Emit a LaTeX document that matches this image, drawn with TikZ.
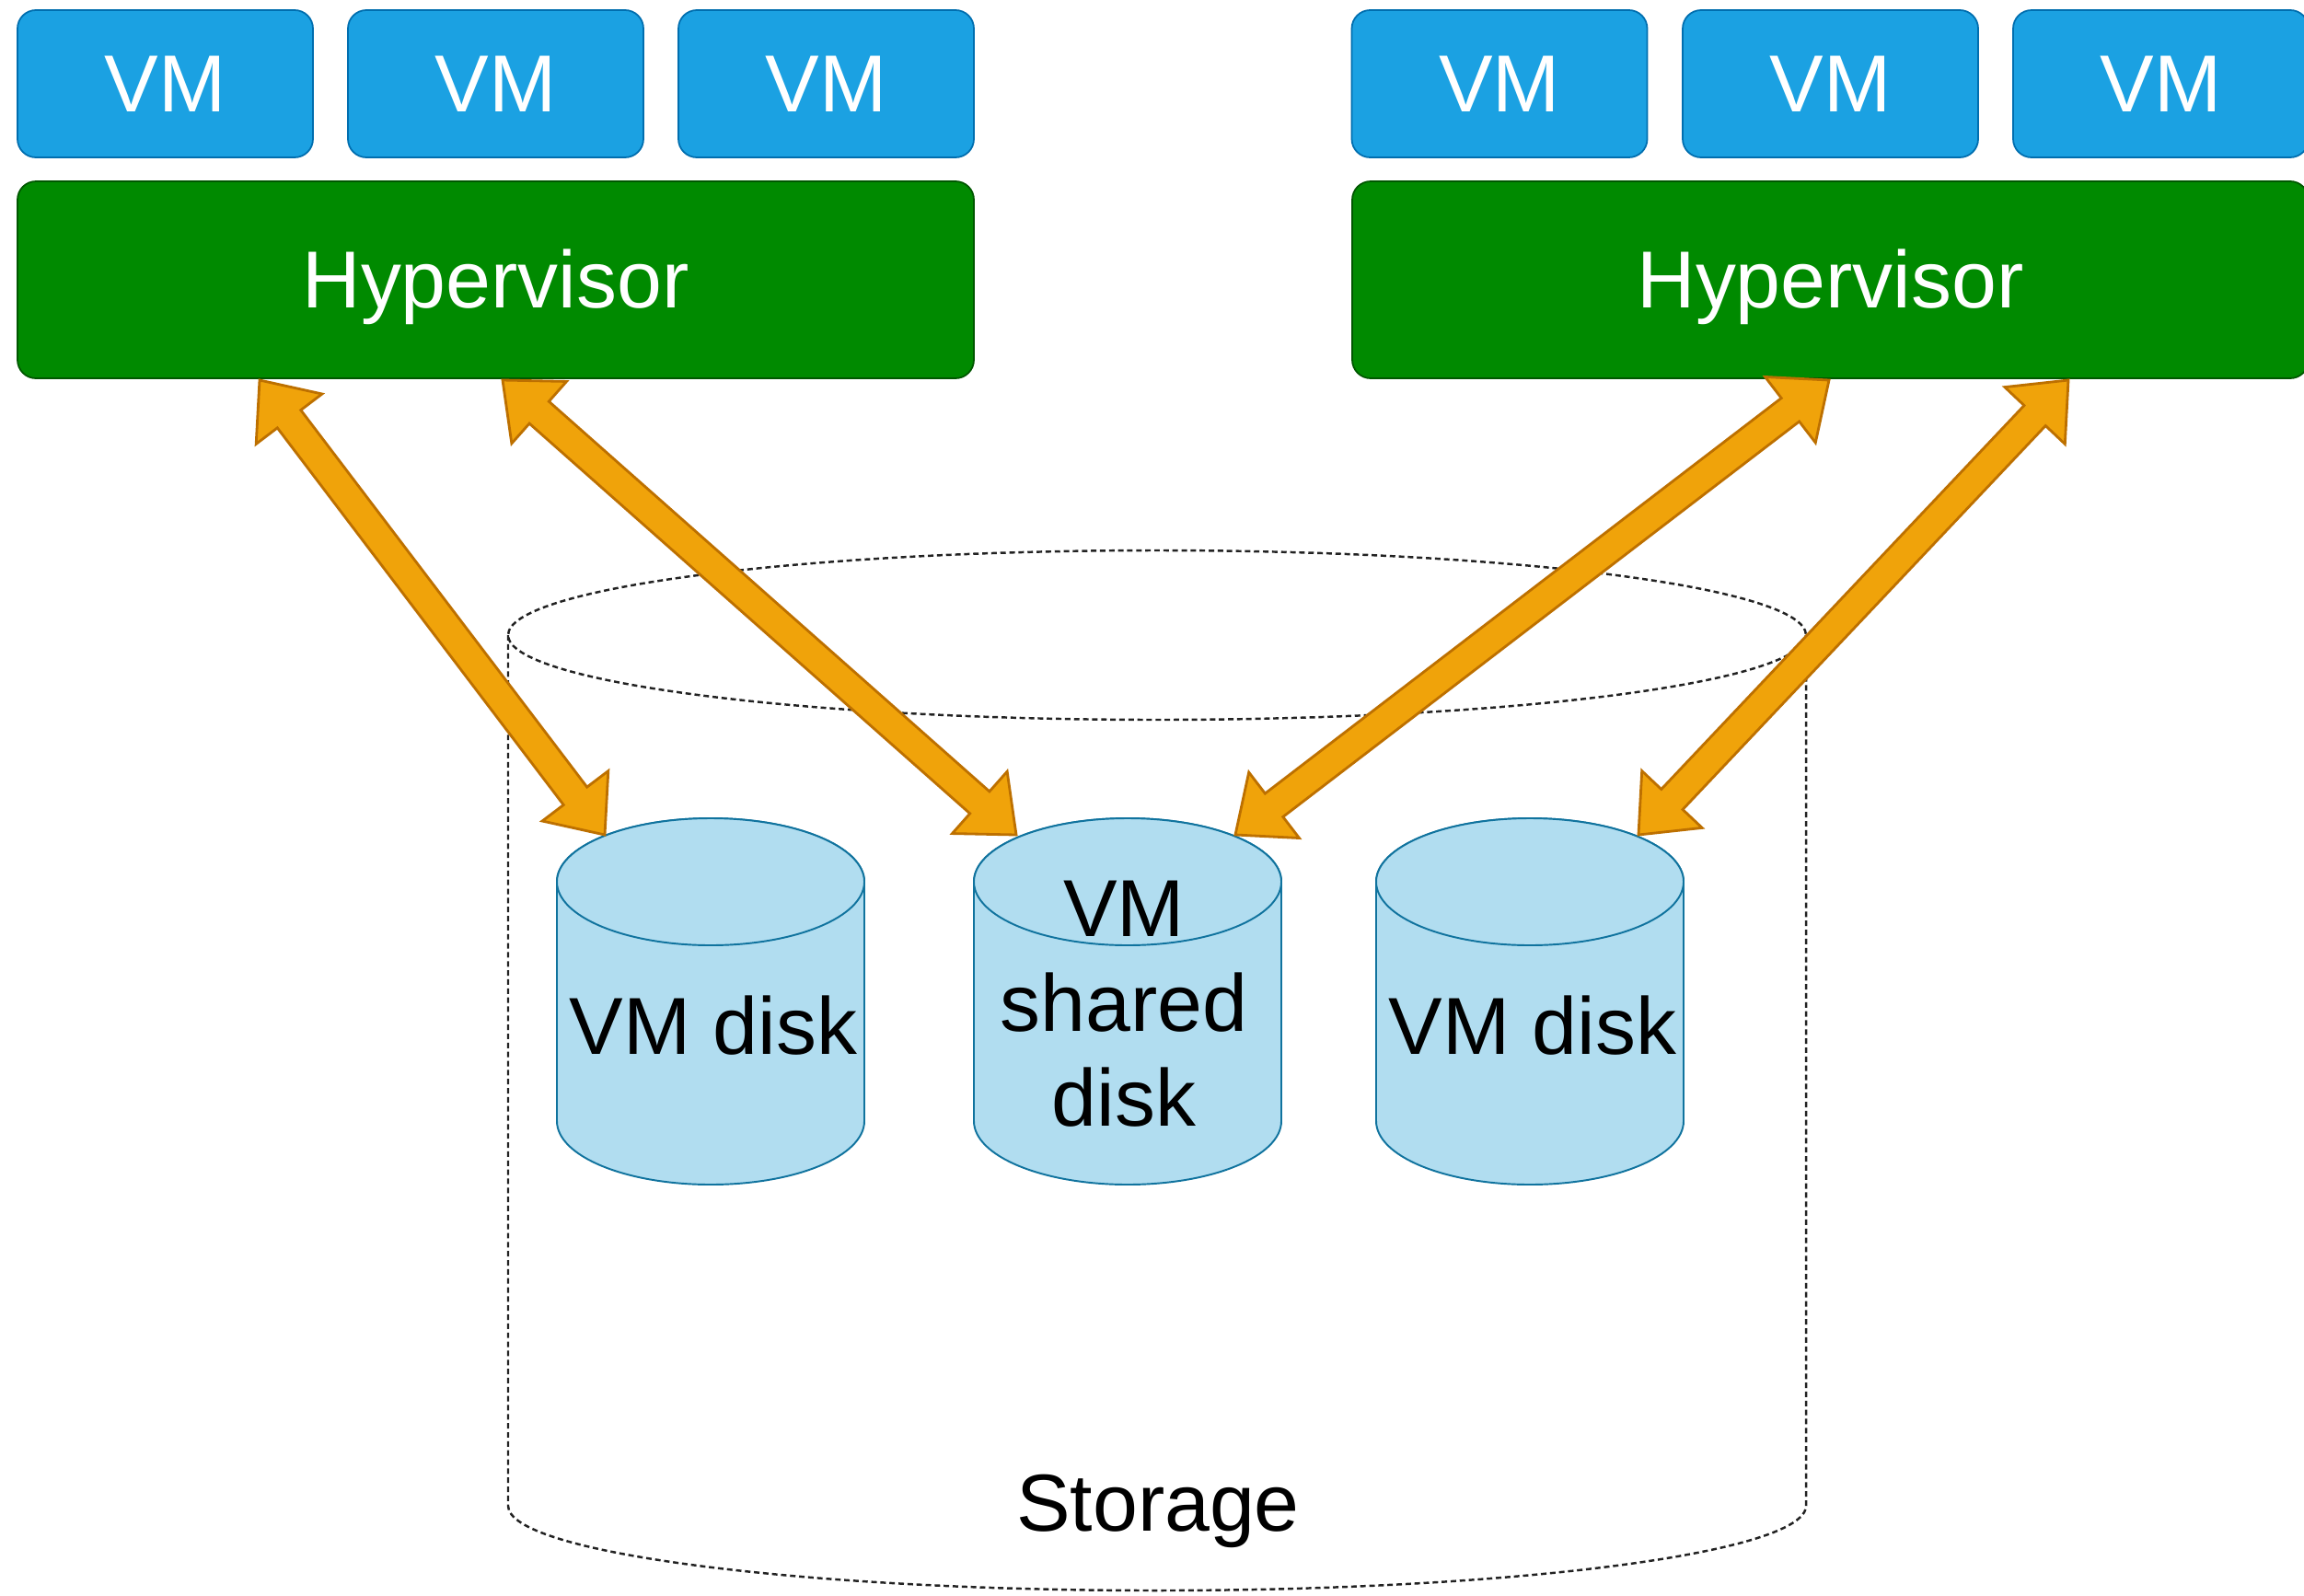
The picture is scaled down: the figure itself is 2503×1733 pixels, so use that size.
\documentclass[tikz,border=0pt]{standalone}
\usepackage{fontspec}
\setmainfont{Liberation Sans}
\usetikzlibrary{calc}
\definecolor{vmfill}{HTML}{1BA1E2}
\definecolor{vmline}{HTML}{006EAF}
\definecolor{hvfill}{HTML}{008A00}
\definecolor{hvline}{HTML}{005700}
\definecolor{dkfill}{HTML}{B1DDF0}
\definecolor{dkline}{HTML}{10739E}
\definecolor{arfill}{HTML}{F0A30A}
\definecolor{arline}{HTML}{BD7000}
\definecolor{stline}{HTML}{222222}
\newcommand\blockarrow[2]{%
  \filldraw[arrowshape] (#1)
    -- ($(#1)!5.3mm!(#2)!4.5mm!90:(#2)$)
    -- ($(#1)!5.3mm!(#2)!1.6mm!90:(#2)$)
    -- ($(#2)!5.3mm!(#1)!1.6mm!-90:(#1)$)
    -- ($(#2)!5.3mm!(#1)!4.5mm!-90:(#1)$)
    -- (#2)
    -- ($(#2)!5.3mm!(#1)!4.5mm!90:(#1)$)
    -- ($(#2)!5.3mm!(#1)!1.6mm!90:(#1)$)
    -- ($(#1)!5.3mm!(#2)!1.6mm!-90:(#2)$)
    -- ($(#1)!5.3mm!(#2)!4.5mm!-90:(#2)$)
    -- cycle;}
\begin{document}
\begin{tikzpicture}[x=0.1mm,y=-0.1mm,
  txt/.style={font=\fontsize{25pt}{29.2pt}\selectfont},
  vmbox/.style={txt,draw=vmline,fill=vmfill,line width=0.5pt,rounded corners=2mm,
    minimum width=32.1mm,minimum height=16mm,inner sep=0pt,text=white,
    text height=17.2pt,text depth=0pt},
  hvbox/.style={txt,draw=hvline,fill=hvfill,line width=0.5pt,rounded corners=2mm,
    minimum width=103.9mm,minimum height=21.4mm,inner sep=0pt,text=white,
    text height=17.2pt,text depth=0pt},
  disk/.style={draw=dkline,fill=dkfill,line width=0.55pt},
  storage/.style={draw=stline,line width=0.7pt,dash pattern=on 1.7pt off 1.1pt},
  label/.style={txt,inner sep=0pt,anchor=base,align=center,text=black},
  arrowshape/.style={draw=arline,fill=arfill,line width=0.8pt,line join=miter}]
\useasboundingbox (0,0) rectangle (2503,1733);
\clip (0,0) rectangle (2503,1733);
\fill[white] (0,0) rectangle (2503,1733);

% storage cylinder
\draw[storage] (552,690) -- (552,1636)
  arc[start angle=180,end angle=0,x radius=705,y radius=92] -- (1962,690);
\draw[storage] (1257,690) ellipse[x radius=705,y radius=92];
\node[label] (storage) at (1258,1663) {Storage};

% disks
\foreach \cx/\nm in {772/d1,1225/d2,1662/d3}{
  \filldraw[disk] (\cx-167,958) -- (\cx-167,1218)
    arc[start angle=180,end angle=0,x radius=167,y radius=69]
    -- (\cx+167,958)
    arc[start angle=0,end angle=-180,x radius=167,y radius=69] -- cycle;
  \draw[disk] (\cx,958) ellipse[x radius=167,y radius=69];
}
\node[label] (disk1) at (775,1145) {VM disk};
\node[label] (disk2) at (1221,1223) {VM\\shared\\disk};
\node[label] (disk3) at (1665,1145) {VM disk};

% VMs and hypervisors
\node[vmbox] (vm1) at (179.5,91) {VM};
\node[vmbox] (vm2) at (538.5,91) {VM};
\node[vmbox] (vm3) at (897.5,91) {VM};
\node[vmbox] (vm4) at (1629,91) {VM};
\node[vmbox] (vm5) at (1988.5,91) {VM};
\node[vmbox] (vm6) at (2347.5,91) {VM};
\node[hvbox] (hv1) at (538.5,304) {Hypervisor};
\node[hvbox] (hv2) at (1988.5,304) {Hypervisor};

% arrow end points
\coordinate (a1s) at (282,413);  \coordinate (a1e) at (657,907);
\coordinate (a2s) at (546,413);  \coordinate (a2e) at (1104,907);
\coordinate (a3s) at (1987,413); \coordinate (a3e) at (1342,907);
\coordinate (a4s) at (2247,413); \coordinate (a4e) at (1780,907);
\blockarrow{a1s}{a1e}
\blockarrow{a2s}{a2e}
\blockarrow{a3s}{a3e}
\blockarrow{a4s}{a4e}
\end{tikzpicture}
\end{document}
